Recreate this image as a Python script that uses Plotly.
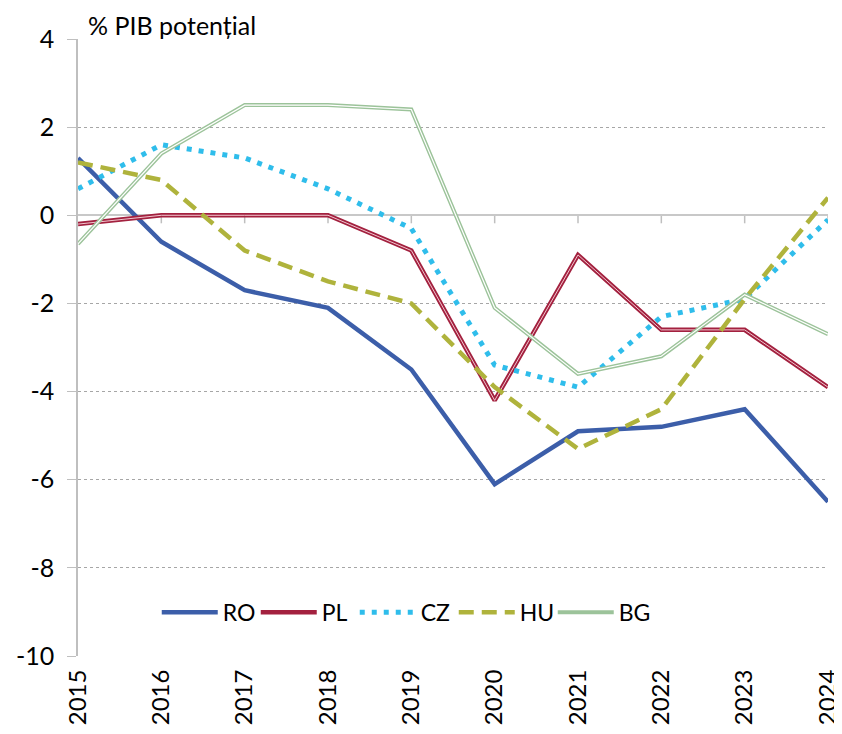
import plotly.graph_objects as go

years = ["2015", "2016", "2017", "2018", "2019", "2020", "2021", "2022", "2023", "2024"]
ro = [1.3, -0.6, -1.7, -2.1, -3.5, -6.1, -4.9, -4.8, -4.4, -6.5]
pl = [-0.2, 0.0, 0.0, 0.0, -0.8, -4.2, -0.9, -2.6, -2.6, -3.9]
cz = [0.6, 1.6, 1.3, 0.6, -0.3, -3.4, -3.9, -2.3, -1.9, -0.1]
hu = [1.2, 0.8, -0.8, -1.5, -2.0, -3.9, -5.3, -4.4, -1.9, 0.4]
bg = [-0.65, 1.4, 2.5, 2.5, 2.4, -2.1, -3.6, -3.2, -1.8, -2.7]
y_ticks = [4, 2, 0, -2, -4, -6, -8, -10]

font = "Lato, Open Sans, sans-serif"
fig = go.Figure()

fig.add_trace(go.Scatter(x=years, y=ro, name="RO", mode="lines",
                         line=dict(color="#3C5EA9", width=4.5)))
fig.add_trace(go.Scatter(x=years, y=pl, name="PL", mode="lines", legendgroup="pl",
                         line=dict(color="#A3213F", width=4.5)))
fig.add_trace(go.Scatter(x=years, y=pl, name="PL", mode="lines", legendgroup="pl",
                         showlegend=False, hoverinfo="skip",
                         line=dict(color="#F2C6CF", width=1)))
fig.add_trace(go.Scatter(x=years, y=cz, name="CZ", mode="lines",
                         line=dict(color="#2FBDEB", width=5, dash="5px,7px")))
fig.add_trace(go.Scatter(x=years, y=hu, name="HU", mode="lines",
                         line=dict(color="#AFB33C", width=4.5, dash="15px,8px")))
fig.add_trace(go.Scatter(x=years, y=bg, name="BG", mode="lines", legendgroup="bg",
                         line=dict(color="#9CC39A", width=4)))
fig.add_trace(go.Scatter(x=years, y=bg, name="BG", mode="lines", legendgroup="bg",
                         showlegend=False, hoverinfo="skip",
                         line=dict(color="#FFFFFF", width=1.2)))

# category tick marks hanging below the zero line
for i in range(1, len(years)):
    fig.add_shape(type="line", xref="x", yref="y", ysizemode="pixel", yanchor=0,
                  x0=i, x1=i, y0=0, y1=-8, line=dict(color="#BFBFBF", width=1.5),
                  layer="below")

# page body has an 8px margin, so the figure is sized to the visible area
fig.update_layout(
    width=834, height=726,
    margin=dict(l=70, r=14, t=31, b=78, autoexpand=False),
    paper_bgcolor="white", plot_bgcolor="white",
    font=dict(family=font, size=22, color="#000000"),
    showlegend=True,
    legend=dict(orientation="h", x=0.105, y=0.071, xanchor="left", yanchor="middle",
                font=dict(size=23), bgcolor="rgba(0,0,0,0)", itemwidth=56,
                entrywidth=28, entrywidthmode="pixels",
                traceorder="normal"),
    annotations=[dict(text="% PIB potențial", xref="paper", yref="paper",
                      x=0.0107, y=1.0, xanchor="left", yanchor="bottom",
                      showarrow=False, font=dict(size=25, family=font), yshift=-3)],
)
fig.update_xaxes(type="category", range=[0, 9], showgrid=False, automargin=False,
                 tickangle=-90, ticks="outside", ticklen=0, tickcolor="rgba(0,0,0,0)",
                 showline=False, ticklabelstandoff=3,
                 tickfont=dict(size=24, family=font))
fig.update_yaxes(range=[-10, 4], tickvals=y_ticks, ticktext=[str(v) for v in y_ticks],
                 automargin=False, ticklabelstandoff=8,
                 showgrid=True, gridcolor="#A6A6A6", griddash="dot", gridwidth=1,
                 zeroline=True, zerolinecolor="#C8C8C8", zerolinewidth=2,
                 showline=True, linecolor="#BFBFBF", linewidth=1.5,
                 ticks="outside", ticklen=9, tickcolor="#BFBFBF",
                 tickfont=dict(size=25, family=font))

fig.write_html("out.html")
